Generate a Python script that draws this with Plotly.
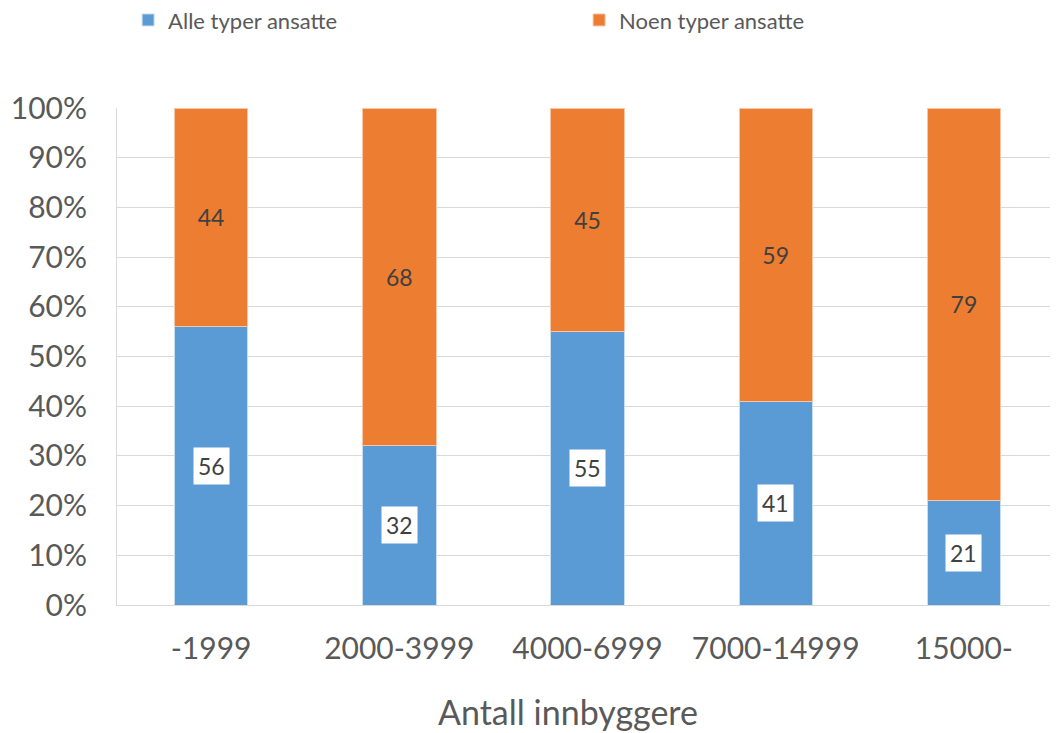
import plotly.graph_objects as go

categories = ["-1999", "2000-3999", "4000-6999", "7000-14999", "15000-"]
alle = [56, 32, 55, 41, 21]
noen = [44, 68, 45, 59, 79]
y_ticks = [0, 10, 20, 30, 40, 50, 60, 70, 80, 90, 100]
x_title = "Antall innbyggere"

FONT = "Lato"
TXT = "#595959"
GRID = "#D9D9D9"

xpos = list(range(len(categories)))

fig = go.Figure()
fig.add_trace(go.Bar(
    x=xpos, y=alle, name="Alle typer ansatte",
    marker=dict(color="#5B9BD5", line=dict(color="#C9DDF0", width=1)),
    hoverinfo="skip",
))
fig.add_trace(go.Bar(
    x=xpos, y=noen, name="Noen typer ansatte",
    marker=dict(color="#ED7D31", line=dict(color="#F5C6A8", width=1)),
    text=[str(v) for v in noen], textposition="inside",
    insidetextanchor="middle",
    textfont=dict(family=FONT, size=23, color="#404040"),
    hoverinfo="skip",
))

for xi, v in zip(xpos, alle):
    fig.add_annotation(
        x=xi, y=v / 2, xref="x", yref="y", text=str(v), showarrow=False,
        bgcolor="white", borderpad=4,
        font=dict(family=FONT, size=23, color="#404040"),
    )

# x-axis title (placed as in the reference, slightly left of plot centre)
fig.add_annotation(
    x=0.479, y=-0.2134, xref="paper", yref="paper", xanchor="center", yanchor="middle",
    text=x_title, showarrow=False,
    font=dict(family=FONT, size=34, color=TXT),
)

fig.update_layout(
    barmode="stack",
    bargap=0.61,
    width=1050, height=725,
    margin=dict(l=109, r=0, t=100, b=128, autoexpand=False),
    paper_bgcolor="white",
    plot_bgcolor="white",
    font=dict(family=FONT, color=TXT),
    showlegend=True,
    legend=dict(
        orientation="h", x=0.0118, xanchor="left",
        yref="paper", y=1.219, yanchor="top",
        font=dict(family=FONT, size=22, color=TXT),
        entrywidth=406, entrywidthmode="pixels",
        itemwidth=30, traceorder="normal",
        bgcolor="rgba(0,0,0,0)",
    ),
    xaxis=dict(
        tickmode="array", tickvals=xpos, ticktext=categories,
        range=[-0.5, len(categories) - 0.5],
        tickfont=dict(family=FONT, size=30, color=TXT),
        showline=True, linecolor=GRID, linewidth=1,
        showgrid=False, zeroline=False,
        ticks="", ticklabelstandoff=17,
    ),
    yaxis=dict(
        range=[0, 100], tickvals=y_ticks, ticktext=[f"{t}%" for t in y_ticks],
        tickfont=dict(family=FONT, size=30, color=TXT),
        showgrid=True, gridcolor=GRID, gridwidth=1,
        showline=True, linecolor=GRID, linewidth=1,
        zeroline=False, ticks="", ticklabelstandoff=23,
    ),
)

fig.write_html("out.html")
